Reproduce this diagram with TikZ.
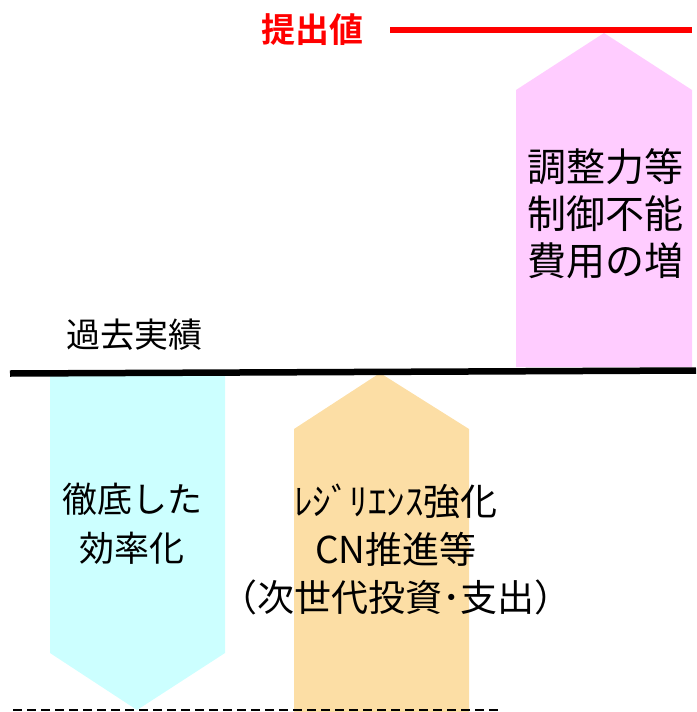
\documentclass[tikz,border=0pt]{standalone}
\usepackage{fontspec}
\newfontfamily\jp{Noto Sans CJK JP}
\newfontfamily\jpb{Noto Sans CJK JP Bold}
\definecolor{pinkfill}{HTML}{FFCCFF}
\definecolor{cyanfill}{HTML}{CCFFFF}
\definecolor{orangefill}{HTML}{FCDEA5}
\definecolor{redline}{HTML}{FF0000}
\begin{document}
\begin{tikzpicture}[x=1pt,y=-1pt,
  lbl/.style={inner sep=0pt, align=center, font=\jp\fontsize{37}{48}\selectfont},
]
\useasboundingbox (0,0) rectangle (696,712);
% arrows
\fill[pinkfill] (516,367) -- (516,90) -- (604,33) -- (692,90) -- (692,367) -- cycle;
\fill[cyanfill] (50,376) -- (225,376) -- (225,653) -- (137,710) -- (50,653) -- cycle;
\fill[orangefill] (294,712) -- (294,429) -- (380,373) -- (469,429) -- (469,712) -- cycle;
% lines
\coordinate (rl) at (390,30);
\coordinate (rr) at (692,30);
\draw[redline, line width=6pt] (rl) -- (rr);
\coordinate (bl) at (10,373.5);
\coordinate (br) at (696,370.5);
\draw[black, line width=6.5pt] (bl) -- (br);
\coordinate (dl) at (13,710);
\coordinate (dr) at (498,710);
\draw[black, line width=2.5pt, dash pattern=on 9pt off 5pt] (dl) -- (dr);
% texts
\node[lbl, text=redline, font=\jpb\fontsize{34}{40}\selectfont] (teishutsu) at (312,30) {提出値};
\node[lbl, font=\jp\fontsize{34}{36}\selectfont] (kako) at (134,335) {過去実績};
\node[lbl, font=\jp\fontsize{39}{47}\selectfont] (pinktxt) at (605,214) {調整力等\\制御不能\\費用の増};
\node[lbl, font=\jp\fontsize{35}{49}\selectfont] (cyantxt) at (132,524) {徹底した\\効率化};
\node[lbl] (orangetxt) at (396,549) {ﾚｼﾞﾘｴﾝｽ強化\\CN推進等\\（次世代投資･支出）};
\end{tikzpicture}
\end{document}
